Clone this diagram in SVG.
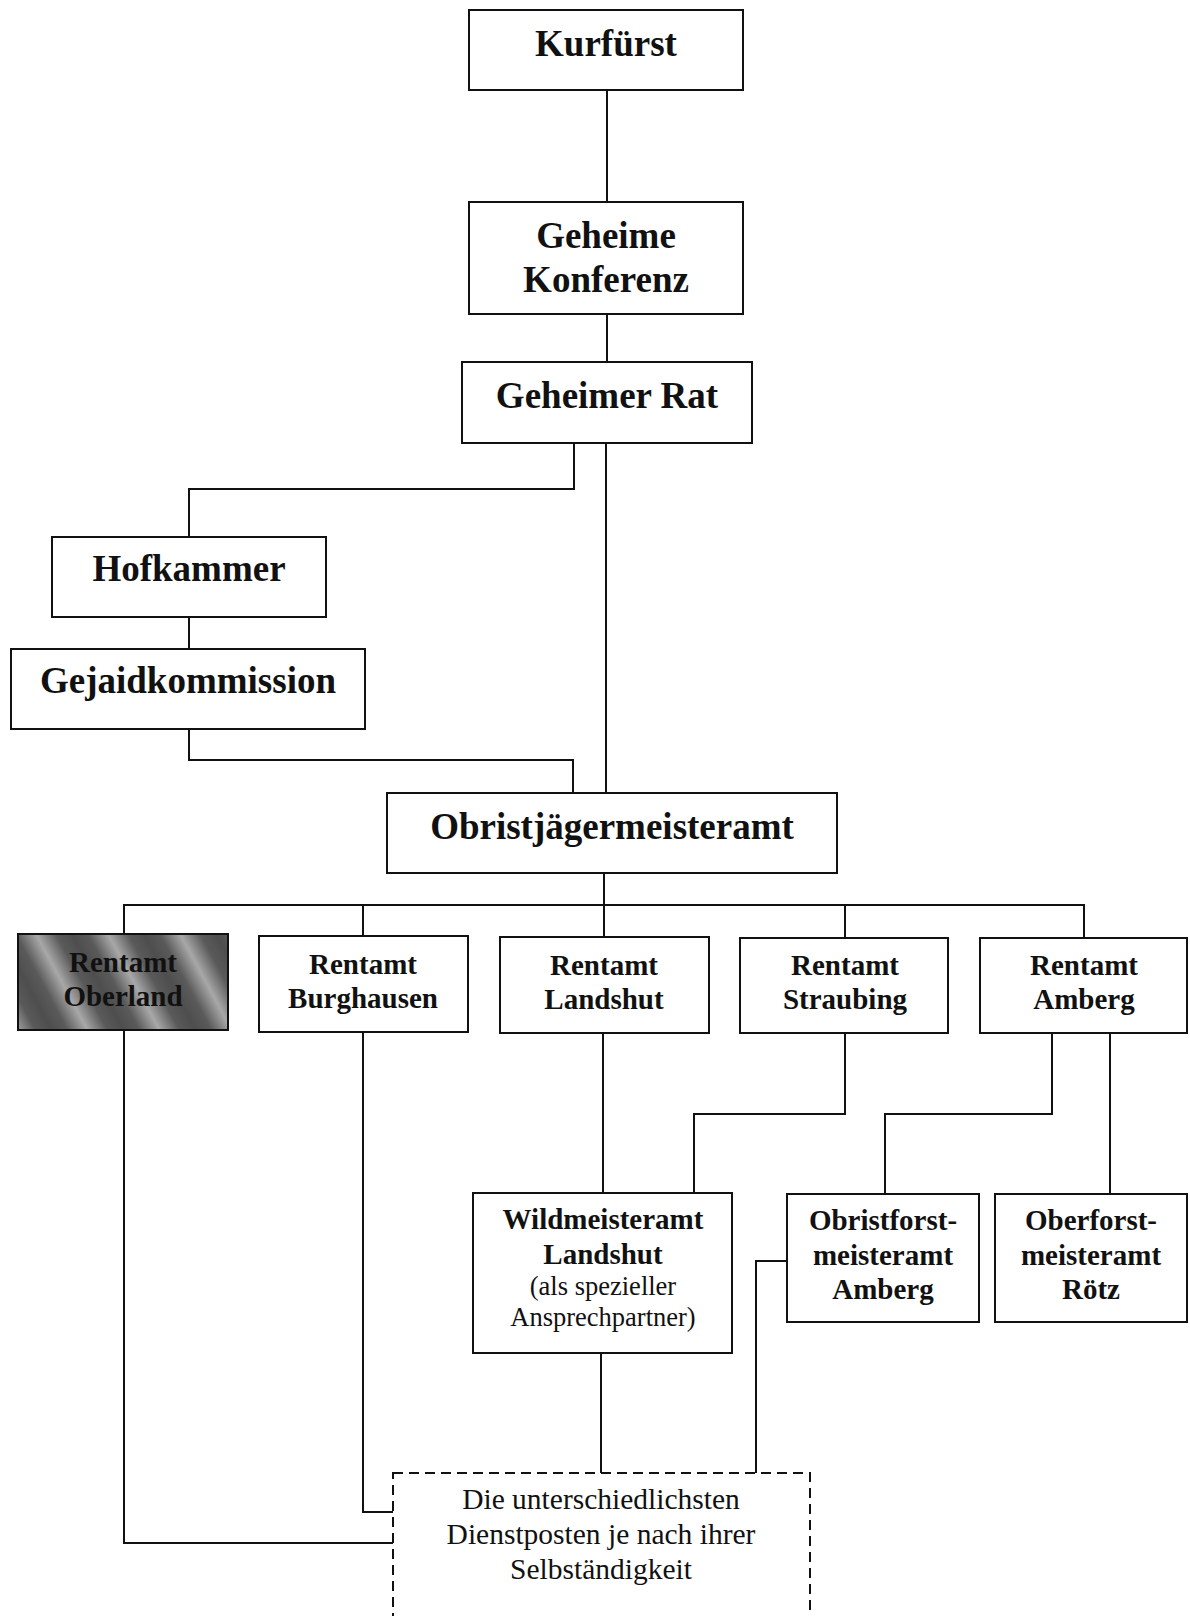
<svg xmlns="http://www.w3.org/2000/svg" width="1190" height="1616" viewBox="0 0 1190 1616">
<style>
.box{fill:#fff;stroke:#111;stroke-width:2}
.dash{fill:#fff;stroke:#111;stroke-width:2;stroke-dasharray:10 6}
.ln{fill:none;stroke:#111;stroke-width:2}
.t1{font-family:"Liberation Serif","Times New Roman",serif;font-weight:bold;font-size:37px;fill:#111;text-anchor:middle}
.t2{font-family:"Liberation Serif","Times New Roman",serif;font-weight:bold;font-size:29px;fill:#111;text-anchor:middle}
.t3{font-family:"Liberation Serif","Times New Roman",serif;font-size:26.5px;fill:#111;text-anchor:middle}
.t4{font-family:"Liberation Serif","Times New Roman",serif;font-size:29.5px;fill:#111;text-anchor:middle}
</style>
<defs>
<linearGradient id="stripes" gradientUnits="userSpaceOnUse" x1="0" y1="934" x2="56" y2="904" spreadMethod="repeat">
<stop offset="0" stop-color="#4e4e4e"/>
<stop offset="0.22" stop-color="#5a5a5a"/>
<stop offset="0.5" stop-color="#a8a8a8"/>
<stop offset="0.78" stop-color="#5a5a5a"/>
<stop offset="1" stop-color="#4e4e4e"/>
</linearGradient>
</defs>
<rect width="1190" height="1616" fill="#fff"/>
<g id="connectors">
<path class="ln" d="M607 90 V202"/>
<path class="ln" d="M607 314 V362"/>
<path class="ln" d="M574 443 V489 H189 V537"/>
<path class="ln" d="M189 617 V649"/>
<path class="ln" d="M189 729 V760 H573 V793"/>
<path class="ln" d="M606 443 V793"/>
<path class="ln" d="M604 873 V905"/>
<path class="ln" d="M124 934 V905 H1084 V938"/>
<path class="ln" d="M363 905 V936"/>
<path class="ln" d="M604 905 V937"/>
<path class="ln" d="M845 905 V938"/>
<path class="ln" d="M124 1030 V1543 H393"/>
<path class="ln" d="M363 1032 V1512 H393"/>
<path class="ln" d="M603 1033 V1193"/>
<path class="ln" d="M845 1033 V1114 H694 V1193"/>
<path class="ln" d="M1052 1033 V1114 H885 V1194"/>
<path class="ln" d="M1110 1033 V1194"/>
<path class="ln" d="M601 1353 V1473"/>
<path class="ln" d="M787 1261 H756 V1473"/>
</g>
<g id="kurfuerst"><rect class="box" x="469" y="10" width="274" height="80"/><text class="t1" x="606" y="56">Kurfürst</text></g>
<g id="geheime-konferenz"><rect class="box" x="469" y="202" width="274" height="112"/><text class="t1" x="606" y="248">Geheime</text><text class="t1" x="606" y="292">Konferenz</text></g>
<g id="geheimer-rat"><rect class="box" x="462" y="362" width="290" height="81"/><text class="t1" x="607" y="408">Geheimer Rat</text></g>
<g id="hofkammer"><rect class="box" x="52" y="537" width="274" height="80"/><text class="t1" x="189" y="581">Hofkammer</text></g>
<g id="gejaidkommission"><rect class="box" x="11" y="649" width="354" height="80"/><text class="t1" x="188" y="693">Gejaidkommission</text></g>
<g id="obristjaegermeisteramt"><rect class="box" x="387" y="793" width="450" height="80"/><text class="t1" x="612" y="839">Obristjägermeisteramt</text></g>
<g id="rentamt-oberland"><rect x="18" y="934" width="210" height="96" fill="url(#stripes)" stroke="#111" stroke-width="2"/><text class="t2" x="123" y="972">Rentamt</text><text class="t2" x="123" y="1006">Oberland</text></g>
<g id="rentamt-burghausen"><rect class="box" x="259" y="936" width="209" height="96"/><text class="t2" x="363" y="974">Rentamt</text><text class="t2" x="363" y="1008">Burghausen</text></g>
<g id="rentamt-landshut"><rect class="box" x="500" y="937" width="209" height="96"/><text class="t2" x="604" y="975">Rentamt</text><text class="t2" x="604" y="1009">Landshut</text></g>
<g id="rentamt-straubing"><rect class="box" x="740" y="938" width="208" height="95"/><text class="t2" x="845" y="975">Rentamt</text><text class="t2" x="845" y="1009">Straubing</text></g>
<g id="rentamt-amberg"><rect class="box" x="980" y="938" width="207" height="95"/><text class="t2" x="1084" y="975">Rentamt</text><text class="t2" x="1084" y="1009">Amberg</text></g>
<g id="wildmeisteramt-landshut"><rect class="box" x="473" y="1193" width="259" height="160"/><text class="t2" x="603" y="1229">Wildmeisteramt</text><text class="t2" x="603" y="1264">Landshut</text><text class="t3" x="603" y="1295">(als spezieller</text><text class="t3" x="603" y="1326">Ansprechpartner)</text></g>
<g id="obristforstmeisteramt-amberg"><rect class="box" x="787" y="1194" width="192" height="128"/><text class="t2" x="883" y="1230">Obristforst-</text><text class="t2" x="883" y="1265">meisteramt</text><text class="t2" x="883" y="1299">Amberg</text></g>
<g id="oberforstmeisteramt-roetz"><rect class="box" x="995" y="1194" width="192" height="128"/><text class="t2" x="1091" y="1230">Oberforst-</text><text class="t2" x="1091" y="1265">meisteramt</text><text class="t2" x="1091" y="1299">Rötz</text></g>
<g id="dienstposten"><rect class="dash" x="393" y="1473" width="417" height="170"/><text class="t4" x="601" y="1509">Die unterschiedlichsten</text><text class="t4" x="601" y="1544">Dienstposten je nach ihrer</text><text class="t4" x="601" y="1579">Selbständigkeit</text></g>
</svg>
